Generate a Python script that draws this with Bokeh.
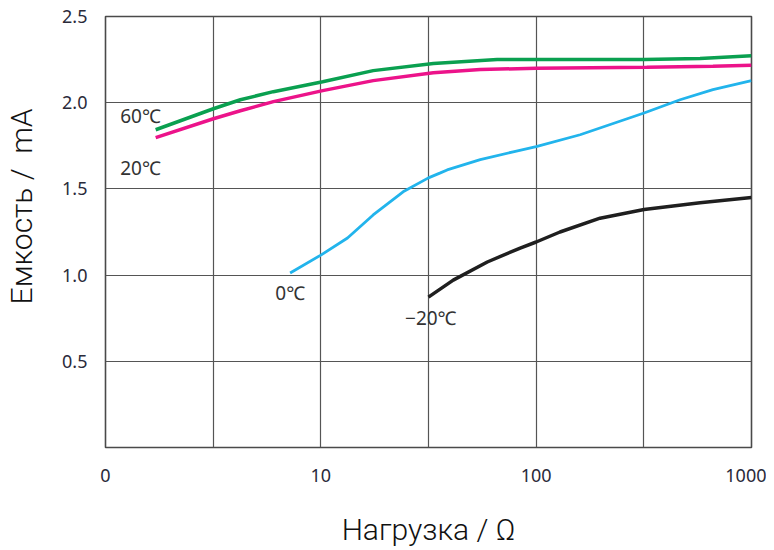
from bokeh.plotting import figure
from bokeh.models import FixedTicker, Label, CustomJSTickFormatter
from bokeh.embed import file_html
from bokeh.resources import INLINE

# Data (load in ohms, capacity in mA)
x_60 = [1.71, 3.17, 4.23, 6.02, 10.2, 17.5, 33.3, 65.9, 100, 317, 577, 1000]
y_60 = [1.843, 1.965, 2.017, 2.064, 2.122, 2.186, 2.227, 2.25, 2.25, 2.25, 2.256, 2.273]

x_20 = [1.71, 3.17, 4.23, 6.02, 10.2, 17.5, 33.3, 55, 100, 326, 662, 1000]
y_20 = [1.797, 1.907, 1.953, 2.006, 2.07, 2.128, 2.174, 2.192, 2.20, 2.205, 2.211, 2.217]

x_0 = [7.2, 10, 13.3, 17.5, 24.1, 31.6, 35.9, 38.6, 55, 78.2, 100, 160, 317, 466, 662, 1000]
y_0 = [1.012, 1.116, 1.215, 1.349, 1.483, 1.564, 1.593, 1.61, 1.67, 1.715, 1.745, 1.814,
       1.94, 2.017, 2.076, 2.128]

x_m20 = [31.6, 41.2, 59.3, 84.3, 100, 129, 198, 317, 577, 1000]
y_m20 = [0.872, 0.971, 1.076, 1.157, 1.192, 1.25, 1.33, 1.38, 1.42, 1.45]

x_ticks = [1, 10, 100, 1000]
x_tick_labels = ["0", "10", "100", "1000"]
x_grid = [10 ** 0.5, 10, 10 ** 1.5, 100, 10 ** 2.5]
y_ticks = [0.5, 1.0, 1.5, 2.0, 2.5]

p = figure(width=766, height=550, x_axis_type="log", x_range=(1, 1000), y_range=(0, 2.5),
           output_backend="svg", toolbar_location=None,
           min_border_left=105, min_border_top=16, min_border_right=15, min_border_bottom=103)

p.outline_line_color = "#4a4a4a"
p.outline_line_width = 1.6

p.xaxis.ticker = FixedTicker(ticks=x_ticks)
p.xaxis.major_label_overrides = {t: l for t, l in zip(x_ticks, x_tick_labels)}
p.yaxis.ticker = FixedTicker(ticks=y_ticks)
p.yaxis.formatter = CustomJSTickFormatter(code="return tick.toFixed(1);")

for ax in (p.xaxis, p.yaxis):
    ax.axis_line_color = None
    ax.major_tick_line_color = None
    ax.minor_tick_line_color = None
    ax.major_label_text_font = "Noto Sans"
    ax.major_label_text_font_size = "18px"
    ax.major_label_text_color = "#2a2a3a"
    ax.axis_label_text_font = "Roboto Light"
    ax.axis_label_text_font_size = "30px"
    ax.axis_label_text_font_style = "normal"
    ax.axis_label_text_color = "#111111"

p.xaxis.major_label_standoff = 15
p.yaxis.major_label_standoff = 12
p.xaxis.axis_label = "Нагрузка / Ω"
p.xaxis.axis_label_standoff = 27
p.yaxis.axis_label = "\u00a0" * 7 + "Емкость / \u00a0mA"
p.yaxis.axis_label_standoff = 20

p.xgrid.ticker = FixedTicker(ticks=x_grid)
p.ygrid.ticker = FixedTicker(ticks=y_ticks[:-1])
for g in (p.xgrid, p.ygrid):
    g.grid_line_color = "#555555"
    g.grid_line_width = 1.2

p.line(x_60, y_60, line_color="#0aa050", line_width=3.5)
p.line(x_20, y_20, line_color="#ec138a", line_width=3.5)
p.line(x_0, y_0, line_color="#22b4ec", line_width=2.8)
p.line(x_m20, y_m20, line_color="#1f1f1f", line_width=3.5)

label_kw = dict(text_font="Noto Sans", text_font_size="19px", text_color="#333333",
                text_baseline="middle", text_align="left")
p.add_layout(Label(x=1.17, y=1.92, text="60℃", **label_kw))
p.add_layout(Label(x=1.17, y=1.62, text="20℃", **label_kw))
p.add_layout(Label(x=6.15, y=0.895, text="0℃", **label_kw))
p.add_layout(Label(x=24.6, y=0.75, text="−20℃", **label_kw))

open("out.html", "w").write(file_html(p, INLINE))
